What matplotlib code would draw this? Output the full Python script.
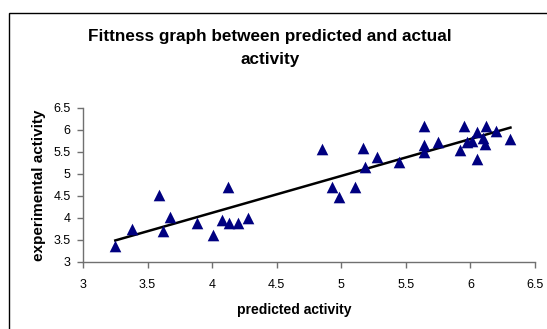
import matplotlib
matplotlib.use("Agg")
import matplotlib.pyplot as plt
import numpy as np
from matplotlib.patches import Rectangle

plt.rcParams['font.family'] = ['Liberation Sans', 'DejaVu Sans']

predicted = [3.25, 3.38, 3.59, 3.62, 3.67, 3.88, 4.01, 4.08, 4.12, 4.13, 4.20, 4.28,
             4.85, 4.93, 4.98, 5.11, 5.17, 5.18, 5.28, 5.45,
             5.64, 5.64, 5.64, 5.75, 5.92, 5.95, 5.97, 6.01, 6.05, 6.05,
             6.10, 6.11, 6.12, 6.20, 6.31]
experimental = [3.36, 3.74, 4.52, 3.71, 4.03, 3.88, 3.61, 3.95, 4.71, 3.88, 3.88, 3.99,
                5.56, 4.70, 4.48, 4.70, 5.58, 5.17, 5.39, 5.27,
                6.08, 5.67, 5.49, 5.72, 5.55, 6.10, 5.72, 5.76, 5.34, 5.95,
                5.82, 5.69, 6.08, 5.97, 5.79]
x_ticks = [3, 3.5, 4, 4.5, 5, 5.5, 6, 6.5]
y_ticks = [3, 3.5, 4, 4.5, 5, 5.5, 6, 6.5]

fig = plt.figure(figsize=(5.47, 3.29), dpi=100)
ax = fig.add_axes([83/547, 1-262/329, (535-83)/547, (262-108)/329])

ax.scatter(predicted, experimental, marker='^', s=70, color='#000080', zorder=3, linewidths=0)
xs = np.array(predicted)
ys = np.array(experimental)
m, b = np.polyfit(xs, ys, 1)
xl = np.array([xs.min(), xs.max()])
ax.plot(xl, m*xl + b, color='black', lw=1.8, zorder=2)

ax.set_xlim(3, 6.5)
ax.set_ylim(3, 6.5)
ax.set_xticks(x_ticks)
ax.set_yticks(y_ticks)
ax.set_xticklabels([f'{t:g}' for t in x_ticks])
ax.set_yticklabels([f'{t:g}' for t in y_ticks])
for s in ['top', 'right']:
    ax.spines[s].set_visible(False)
for s in ['left', 'bottom']:
    ax.spines[s].set_color('#707070')
    ax.spines[s].set_linewidth(1.0)
ax.tick_params(direction='out', length=4, width=1, color='#707070', labelsize=9)
ax.tick_params(axis='x', pad=8)
ax.tick_params(axis='y', pad=5)

ax.set_xlabel('predicted activity', fontsize=10, fontweight='bold')
ax.xaxis.set_label_coords((294.5-83)/452, -41/154)
ax.set_ylabel('experimental activity', fontsize=11, fontweight='bold', labelpad=5)
fig.text(270/547, 1-48/329, 'Fittness graph between predicted and actual\nactivity',
         ha='center', va='center', fontsize=12.3, fontweight='bold', linespacing=1.6)

fig.patches.append(Rectangle((9/547, -0.1), 1.2, (1-13/329)+0.1, transform=fig.transFigure,
                             fill=False, edgecolor='black', lw=1.0))
fig.savefig('out.png', dpi=100)
